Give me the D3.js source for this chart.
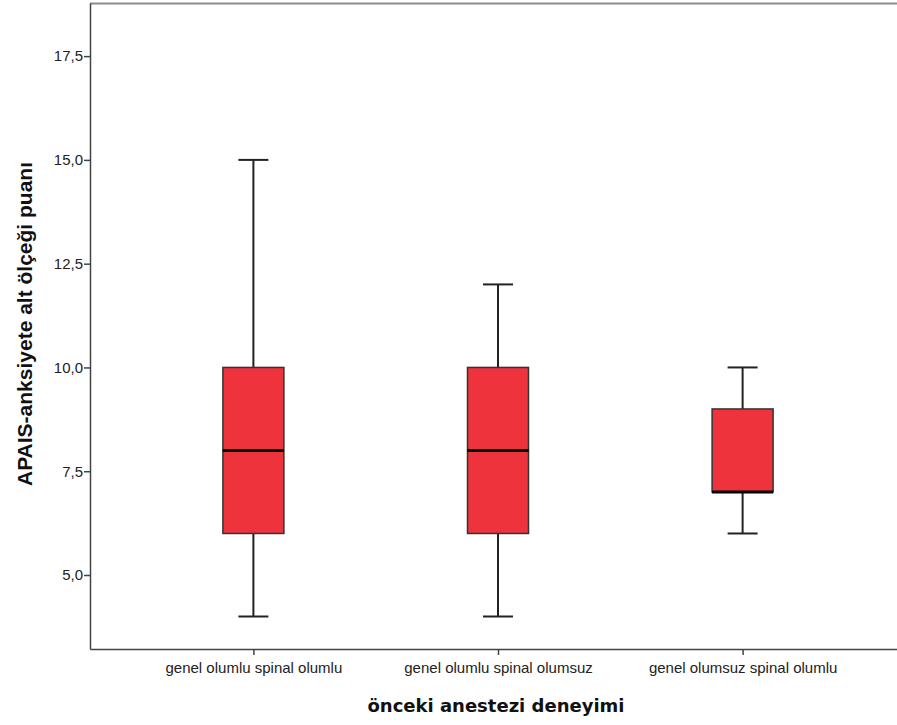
<!DOCTYPE html>
<html>
<head>
<meta charset="utf-8">
<script src="https://cdn.jsdelivr.net/npm/d3@7"></script>
<style>
  body { margin: 0; background: #fff; }
  svg { display: block; }
</style>
</head>
<body>
<div id="grafica"></div>
<script>
// data
var categories = ["genel olumlu spinal olumlu", "genel olumlu spinal olumsuz", "genel olumsuz spinal olumlu"];
var mins    = [4, 4, 6];
var q1s     = [6, 6, 7];
var medians = [8, 8, 7];
var q3s     = [10, 10, 9];
var maxs    = [15, 12, 10];
var yTicks  = [5, 7.5, 10, 12.5, 15, 17.5];

var W = 897, H = 725;
var g = { top: 3, right: -9, bottom: 76, left: 90 };

var svg = d3.select("#grafica").append("svg").attr("width", W).attr("height", H);

var x = d3.scalePoint().domain(categories).range([g.left, W - g.right]).padding(0.668);
var y = d3.scaleLinear().domain([3.217, 18.78]).range([H - g.bottom, g.top]);

var boxes = categories.map(function (c, i) {
  return { cat: c, min: mins[i], q1: q1s[i], med: medians[i], q3: q3s[i], max: maxs[i] };
});

// top frame line
svg.append("line")
  .attr("x1", g.left).attr("x2", W)
  .attr("y1", g.top + 0.5).attr("y2", g.top + 0.5)
  .attr("stroke", "#8c8c8c").attr("stroke-width", 2);

var fmt = function (d) { return d3.format(".1f")(d).replace(".", ","); };

var ya = svg.append("g").attr("transform", "translate(" + g.left + ",0)")
  .call(d3.axisLeft(y).tickValues(yTicks).tickFormat(fmt).tickSize(6).tickSizeOuter(0));
ya.select(".domain").attr("stroke", "#444").attr("stroke-width", 1.5);
ya.selectAll(".tick line").attr("stroke", "#444").attr("stroke-width", 1.5);
ya.selectAll(".tick text").attr("x", -7).attr("font-family", "Liberation Sans, Arial, sans-serif")
  .attr("font-size", 15).attr("fill", "#222");

var xa = svg.append("g").attr("transform", "translate(0," + (H - g.bottom) + ")")
  .call(d3.axisBottom(x).tickSize(6).tickSizeOuter(0));
xa.select(".domain").attr("stroke", "#444").attr("stroke-width", 1.5);
xa.selectAll(".tick line").attr("stroke", "#444").attr("stroke-width", 1.5);
xa.selectAll(".tick text").attr("y", 13).attr("font-family", "Liberation Sans, Arial, sans-serif")
  .attr("font-size", 15).attr("fill", "#222");

var bw = 61, cw = 30;
var bg = svg.selectAll("g.box").data(boxes).enter().append("g").attr("class", "box");

bg.append("line").attr("x1", function (d) { return x(d.cat); }).attr("x2", function (d) { return x(d.cat); })
  .attr("y1", function (d) { return y(d.max); }).attr("y2", function (d) { return y(d.min); })
  .attr("stroke", "#222").attr("stroke-width", 2);
bg.append("line").attr("x1", function (d) { return x(d.cat) - cw / 2; }).attr("x2", function (d) { return x(d.cat) + cw / 2; })
  .attr("y1", function (d) { return y(d.max); }).attr("y2", function (d) { return y(d.max); })
  .attr("stroke", "#222").attr("stroke-width", 2);
bg.append("line").attr("x1", function (d) { return x(d.cat) - cw / 2; }).attr("x2", function (d) { return x(d.cat) + cw / 2; })
  .attr("y1", function (d) { return y(d.min); }).attr("y2", function (d) { return y(d.min); })
  .attr("stroke", "#222").attr("stroke-width", 2);
bg.append("rect").attr("x", function (d) { return x(d.cat) - bw / 2; }).attr("width", bw)
  .attr("y", function (d) { return y(d.q3); }).attr("height", function (d) { return y(d.q1) - y(d.q3); })
  .attr("fill", "#ef333c").attr("stroke", "#333").attr("stroke-width", 1.5);
bg.append("line").attr("x1", function (d) { return x(d.cat) - bw / 2; }).attr("x2", function (d) { return x(d.cat) + bw / 2; })
  .attr("y1", function (d) { return y(d.med); }).attr("y2", function (d) { return y(d.med); })
  .attr("stroke", "#000").attr("stroke-width", 3);

svg.append("text").attr("x", 496).attr("y", 712).attr("text-anchor", "middle")
  .attr("font-family", "DejaVu Sans, Verdana, sans-serif").attr("font-weight", "bold").attr("font-size", 18)
  .attr("fill", "#111").text("önceki anestezi deneyimi");

svg.append("text").attr("transform", "translate(32,324) rotate(-90)").attr("text-anchor", "middle")
  .attr("font-family", "Liberation Sans, Arial, sans-serif").attr("font-weight", "bold").attr("font-size", 21)
  .attr("fill", "#111").text("APAIS-anksiyete alt ölçeği puanı");
</script>
</body>
</html>
